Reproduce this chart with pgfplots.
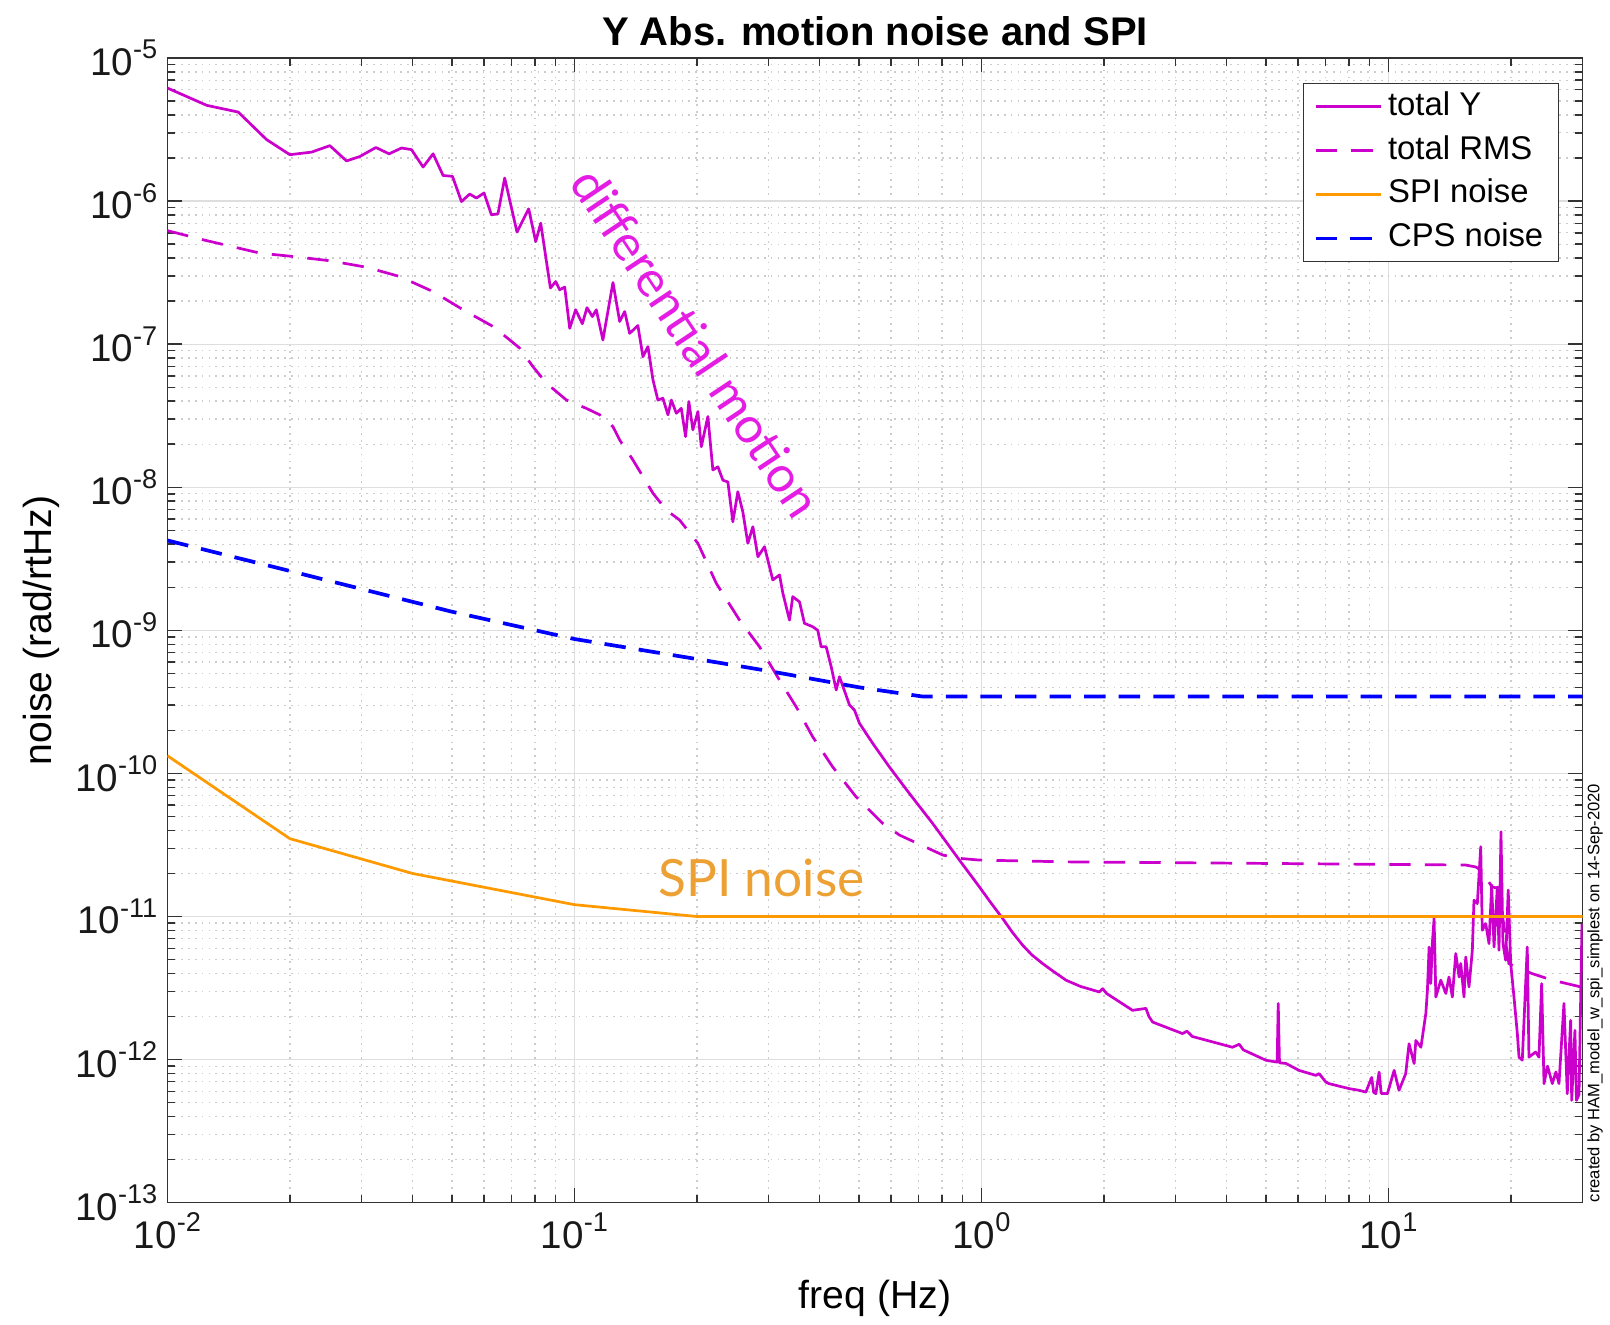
\documentclass[border=0pt]{standalone}
\usepackage{fontspec}
\setmainfont{Liberation Sans}
\newfontfamily\annot{Lato}
\usepackage{pgfplots}
\pgfplotsset{compat=1.18}
\definecolor{mmag}{rgb}{0.8,0,0.8}
\definecolor{mor}{rgb}{1,0.6,0}
\definecolor{annmag}{RGB}{228,28,228}
\definecolor{annor}{RGB}{237,160,51}
\newcommand{\mytick}[1]{\pgfmathparse{int(round(#1))}10\raisebox{5.8pt}{\fontsize{9.5}{9.5}\selectfont\pgfmathresult}}
\begin{document}
\begin{tikzpicture}
\useasboundingbox (-58.6pt,-42.5pt) rectangle (505pt,421pt);
\begin{axis}[
  at={(0pt,0pt)}, anchor=south west,
  scale only axis, width=495.4pt, height=400.7pt,
  xmode=log, ymode=log, log basis x=10, log basis y=10,
  xmin=0.01, xmax=30, ymin=1e-13, ymax=1e-5,
  xtick={0.01,0.1,1,10},
  ytick={1e-13,1e-12,1e-11,1e-10,1e-9,1e-8,1e-7,1e-6,1e-5},
  minor xtick={0.02,0.03,0.04,0.05,0.06,0.07,0.08,0.09,0.2,0.3,0.4,0.5,0.6,0.7,0.8,0.9,2,3,4,5,6,7,8,9,20,30},
  minor ytick={2e-13,3e-13,4e-13,5e-13,6e-13,7e-13,8e-13,9e-13,
               2e-12,3e-12,4e-12,5e-12,6e-12,7e-12,8e-12,9e-12,
               2e-11,3e-11,4e-11,5e-11,6e-11,7e-11,8e-11,9e-11,
               2e-10,3e-10,4e-10,5e-10,6e-10,7e-10,8e-10,9e-10,
               2e-9,3e-9,4e-9,5e-9,6e-9,7e-9,8e-9,9e-9,
               2e-8,3e-8,4e-8,5e-8,6e-8,7e-8,8e-8,9e-8,
               2e-7,3e-7,4e-7,5e-7,6e-7,7e-7,8e-7,9e-7,
               2e-6,3e-6,4e-6,5e-6,6e-6,7e-6,8e-6,9e-6},
  xticklabel={\mytick{\tick}},
  yticklabel={\mytick{\tick}},
  tick label style={font=\fontsize{13.5}{15}\selectfont, text=black!90},
  major tick length=5pt, minor tick length=2.8pt,
  tick style={black!80, line width=0.5pt},
  grid=both,
  major grid style={draw=black!13, line width=0.45pt},
  minor grid style={draw=black!20, line width=0.45pt, dash pattern=on 0.6pt off 1.8pt},
  axis line style={draw=black!80, line width=0.55pt},
  every axis title shift=0pt,
  title={Y Abs. motion noise and SPI},
  title style={font=\bfseries\fontsize{14}{16}\selectfont, at={(0.5,1.01123)}, anchor=base},
  xlabel={freq (Hz)},
  xlabel style={font=\fontsize{13.7}{15}\selectfont, at={(0.5,-0.09284)}, anchor=base},
  ylabel={noise (rad/rtHz)},
  ylabel style={font=\fontsize{13.7}{15}\selectfont, at={(-0.08195,0.5)}, anchor=base, rotate=0},
  legend cell align=left,
  legend image code/.code={\draw[#1] (0pt,0pt) -- (23pt,0pt);},
  legend style={at={(1,1)}, anchor=north east, xshift=-8.2pt, yshift=-8.7pt,
    draw=black!80, line width=0.5pt, fill=white,
    font=\fontsize{11.5}{13}\selectfont,
    inner xsep=3.6pt, inner ysep=2.8pt, row sep=4.9pt,
    nodes={inner xsep=1.7pt, inner ysep=0pt, text height=8.2pt, text depth=2.3pt}},
]
\addplot[mmag, line width=0.95pt, line join=round] coordinates {
(0.01,6.17e-6) (0.01249,4.67e-6) (0.01493,4.19e-6) (0.01753,2.69e-6) (0.02,2.11e-6)
(0.02261,2.20e-6) (0.02507,2.44e-6) (0.02755,1.91e-6) (0.02971,2.05e-6) (0.03253,2.37e-6)
(0.03506,2.14e-6) (0.03761,2.35e-6) (0.0398,2.29e-6) (0.04249,1.73e-6) (0.04496,2.14e-6)
(0.04758,1.51e-6) (0.05017,1.49e-6) (0.05279,9.93e-7) (0.05531,1.12e-6) (0.05745,1.05e-6)
(0.05998,1.14e-6) (0.06253,8.02e-7) (0.06491,8.15e-7) (0.06742,1.45e-6) (0.07228,6.07e-7)
(0.07722,8.83e-7) (0.08035,5.21e-7) (0.08266,7.01e-7) (0.08731,2.47e-7) (0.08996,2.74e-7)
(0.09202,2.40e-7) (0.09467,2.51e-7) (0.09739,1.29e-7) (0.1007,1.74e-7) (0.1046,1.39e-7)
(0.1074,1.80e-7) (0.1107,1.56e-7) (0.1132,1.74e-7) (0.1175,1.07e-7) (0.1244,2.70e-7)
(0.1292,1.44e-7) (0.1329,1.69e-7) (0.1367,1.19e-7) (0.1432,1.35e-7) (0.1474,8.18e-8)
(0.1516,9.62e-8) (0.156,5.62e-8) (0.1604,4.07e-8) (0.1650,4.19e-8) (0.1698,3.21e-8)
(0.1731,4.07e-8) (0.1780,3.29e-8) (0.1831,3.56e-8) (0.1876,2.26e-8) (0.1911,3.97e-8)
(0.1955,2.52e-8) (0.2011,3.38e-8) (0.2050,1.92e-8) (0.2128,3.12e-8) (0.2189,1.32e-8)
(0.2252,1.39e-8) (0.2317,1.12e-8) (0.2383,1.09e-8) (0.2451,5.74e-9) (0.2521,9.31e-9)
(0.2593,6.75e-9) (0.2668,4.06e-9) (0.2745,5.30e-9) (0.2824,3.27e-9) (0.2932,3.84e-9)
(0.3073,2.25e-9) (0.3192,2.44e-9) (0.3252,1.82e-9) (0.3377,1.18e-9) (0.3440,1.72e-9)
(0.3574,1.58e-9) (0.3675,1.12e-9) (0.3852,1.06e-9) (0.3963,1.00e-9) (0.4040,7.67e-10)
(0.4156,7.67e-10) (0.4276,5.56e-10) (0.4398,3.83e-10) (0.4481,4.74e-10) (0.4741,3.01e-10)
(0.4877,2.77e-10) (0.5017,2.24e-10) (0.5409,1.62e-10) (0.5942,1.11e-10) (0.6655,7.24e-11)
(0.7592,4.47e-11) (0.8831,2.48e-11) (0.9888,1.61e-11) (1.05,1.27e-11) (1.128,9.68e-12)
(1.19,7.8e-12) (1.263,6.30e-12) (1.33,5.4e-12) (1.414,4.69e-12) (1.5,4.15e-12)
(1.614,3.59e-12) (1.75,3.25e-12) (1.949,2.97e-12) (1.986,3.13e-12) (2.03,2.90e-12)
(2.352,2.21e-12) (2.537,2.28e-12) (2.58,2.0e-12) (2.634,1.83e-12) (3.120,1.52e-12)
(3.2,1.58e-12) (3.3,1.45e-12) (4.140,1.22e-12) (4.3,1.28e-12) (4.4,1.17e-12)
(5.000,9.9e-13) (5.33,9.6e-13) (5.362,2.47e-12) (5.40,9.5e-13) (5.600,9.4e-13)
(6.037,8.4e-13) (6.634,7.76e-13) (6.759,7.98e-13) (7.019,6.97e-13) (7.151,6.79e-13)
(8.009,6.27e-13) (8.475,6.10e-13) (8.802,5.93e-13) (9.1,7.5e-13) (9.2,5.9e-13)
(9.314,5.78e-13) (9.489,8.18e-13) (9.6,5.8e-13) (9.945,5.78e-13) (10.33,8.41e-13)
(10.62,6.10e-13) (11.03,7.98e-13) (11.24,1.29e-12) (11.57,9.38e-13) (11.68,1.36e-12)
(12.02,1.22e-12) (12.36,2.10e-12) (12.47,3.05e-12) (12.59,6.12e-12) (12.71,3.40e-12)
(12.82,6.47e-12) (12.95,9.68e-12) (13.08,2.74e-12) (13.45,3.59e-12) (13.84,2.90e-12)
(14.09,3.78e-12) (14.36,2.74e-12) (14.64,5.51e-12) (14.92,3.78e-12) (15.06,4.69e-12)
(15.34,2.74e-12) (15.49,5.22e-12) (15.78,3.22e-12) (16.08,5.81e-12) (16.23,1.30e-11)
(16.54,1.23e-11) (16.86,3.07e-11) (17.01,8.02e-12) (17.34,8.93e-12) (17.67,6.47e-12)
(17.94,1.66e-11) (18.18,6.12e-12) (18.52,1.61e-11) (18.70,5.81e-12) (18.91,3.91e-11)
(19.12,6.47e-12) (19.42,4.94e-12) (19.70,1.53e-11) (19.98,4.69e-12) (20.35,2.74e-12)
(20.74,1.52e-12) (20.94,1.04e-12) (21.33,9.9e-13) (21.94,6.12e-12) (22.15,1.04e-12)
(23.00,1.13e-12) (23.44,1.04e-12) (23.80,3.40e-12) (24.12,6.79e-13) (24.6,9.0e-13)
(25.28,6.8e-13) (25.8,8.2e-13) (26.25,6.8e-13) (27.00,2.47e-12) (27.51,5.78e-13)
(28.04,1.88e-12) (28.21,5.19e-13) (28.73,1.60e-12) (28.98,5.19e-13) (29.4,5.7e-13)
(29.9,8.9e-12)
};
\addlegendentry{total Y}
\addplot[mmag, line width=0.95pt, dash pattern=on 7.5pt off 5pt] coordinates {
(0.01,6.22e-7) (0.01226,5.36e-7) (0.01688,4.33e-7) (0.02038,4.10e-7) (0.02507,3.83e-7)
(0.03085,3.45e-7) (0.03725,2.97e-7) (0.04496,2.33e-7) (0.05327,1.74e-7) (0.0631,1.33e-7)
(0.06939,1.07e-7) (0.0734,9.38e-8) (0.0791,6.97e-8) (0.0854,5.33e-8) (0.09559,4.07e-8)
(0.107,3.56e-8) (0.1154,3.21e-8) (0.1244,2.65e-8) (0.1292,2.14e-8) (0.1393,1.55e-8)
(0.156,9.08e-9) (0.1682,6.93e-9) (0.1814,5.90e-9) (0.2011,4.06e-9) (0.2232,2.13e-9)
(0.2545,1.18e-9) (0.2851,7.67e-10) (0.3192,4.49e-10) (0.3508,2.92e-10) (0.3852,1.80e-10)
(0.4313,1.11e-10) (0.4924,6.85e-11) (0.5725,4.47e-11) (0.629,3.71e-11) (0.8035,2.69e-11)
(0.8831,2.55e-11) (0.9888,2.48e-11) (1.614,2.41e-11) (6.037,2.34e-11) (15.49,2.29e-11)
(16.39,2.22e-11) (16.86,2.11e-11) (17.99,1.61e-11) (18.70,1.57e-11) (19.77,4.69e-12)
(20.94,4.33e-12) (22.57,3.99e-12) (25.28,3.59e-12) (30,3.2e-12)
};
\addlegendentry{total RMS}
\addplot[mor, line width=0.95pt] coordinates {
(0.01,1.33e-10) (0.02,3.5e-11) (0.04,2.0e-11) (0.1,1.21e-11) (0.2,1.0e-11) (30,1.0e-11)
};
\addlegendentry{SPI noise}
\addplot[blue, line width=1.3pt, dash pattern=on 7.5pt off 4.6pt] coordinates {
(0.01,4.25e-9) (0.02,2.6e-9) (0.05,1.35e-9) (0.1,8.7e-10) (0.2,6.3e-10) (0.3,5.2e-10)
(0.5,4.0e-10) (0.716,3.45e-10) (30,3.45e-10)
};
\addlegendentry{CPS noise}
\node[rotate=-56.3, text=annmag, inner sep=0pt, font=\annot\fontsize{17.5}{17.5}\selectfont] at (axis cs:0.1994,1.033e-7) {differential motion};
\node[text=annor, inner sep=0pt, font=\annot\fontsize{18}{18}\selectfont] at (axis cs:0.2884,1.85e-11) {SPI noise};
\end{axis}
\node[rotate=90, anchor=north west, inner sep=0pt, font=\fontsize{5.8}{6}\selectfont] at (496.9pt,0pt) {created by HAM\_model\_w\_spi\_simplest on 14-Sep-2020};
\end{tikzpicture}
\end{document}
